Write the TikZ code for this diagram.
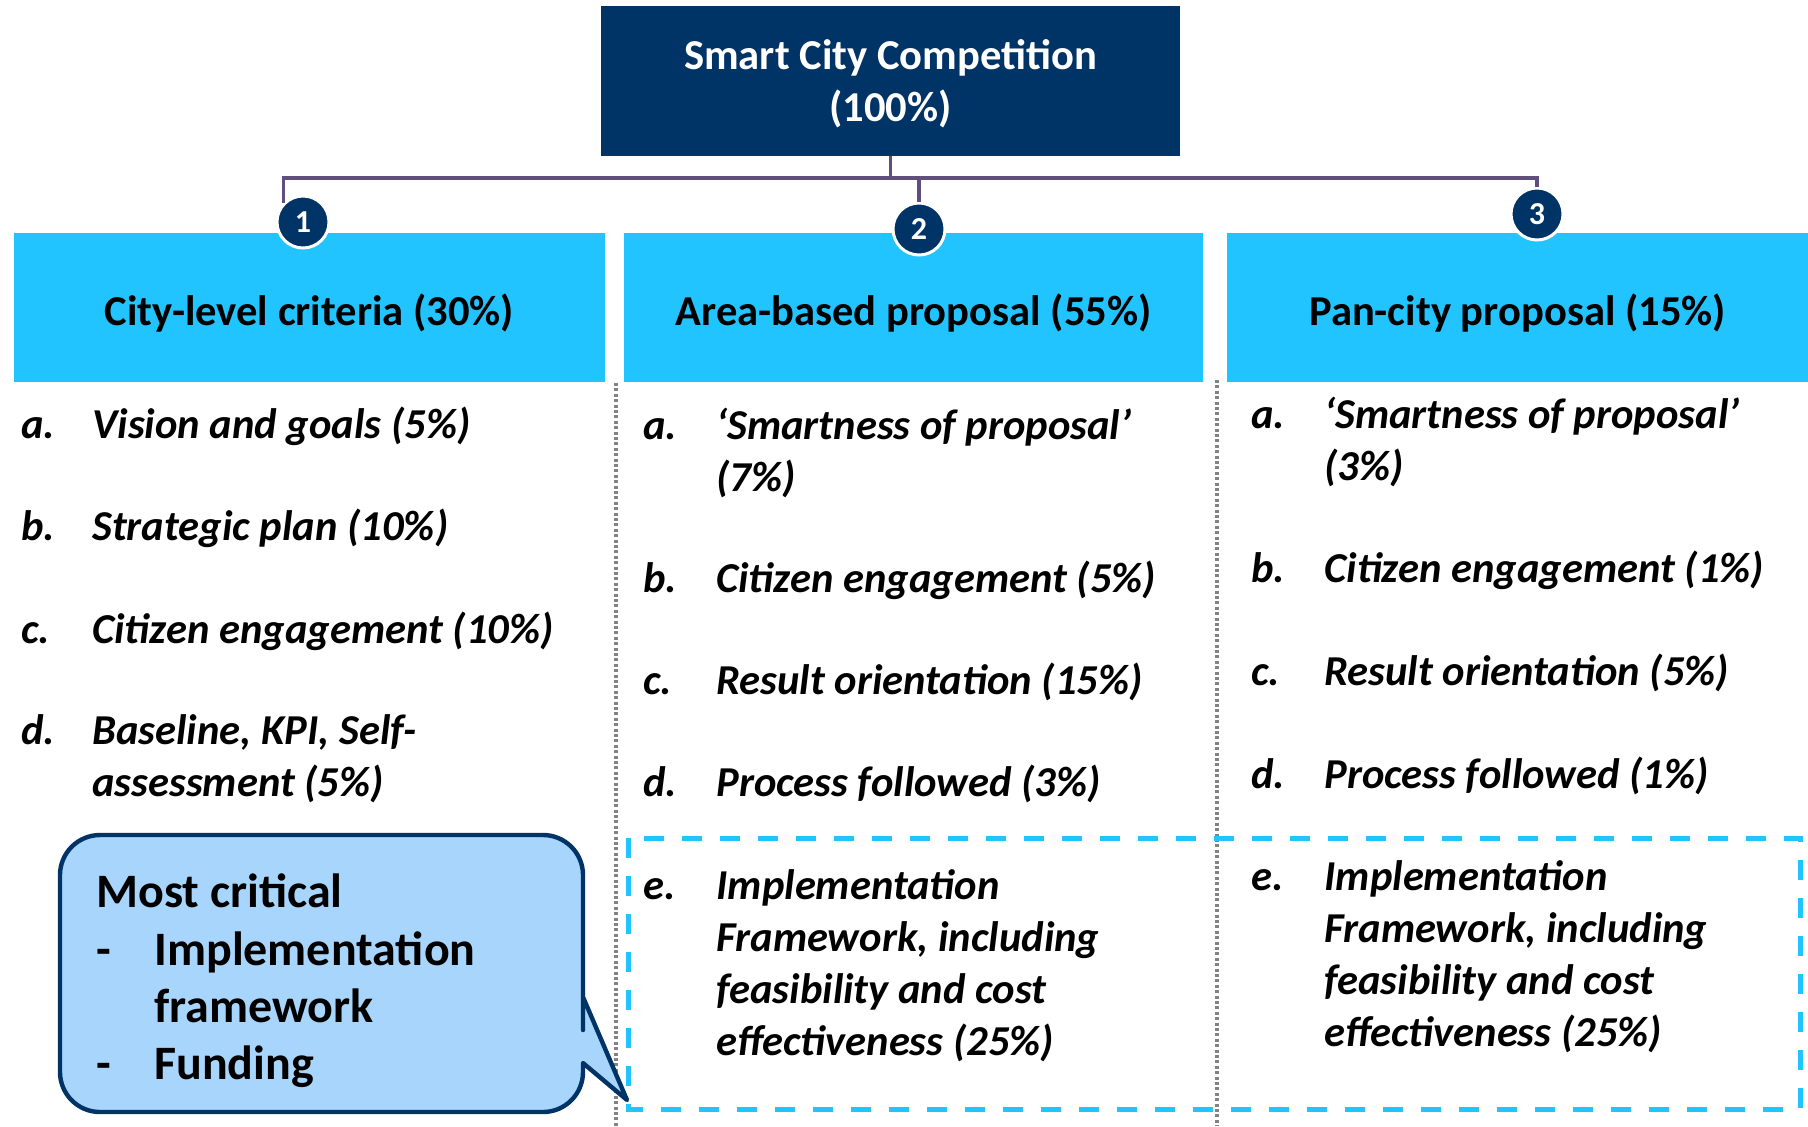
\documentclass[tikz,border=0pt]{standalone}
\usepackage{fontspec}
\setmainfont{Carlito}
\definecolor{navy}{RGB}{0,51,102}
\definecolor{cyanh}{RGB}{33,196,255}
\definecolor{connc}{RGB}{96,78,124}
\definecolor{callfill}{RGB}{168,213,251}
\definecolor{dotgray}{RGB}{130,130,130}
\newcommand\itemfont{\fontsize{21.3}{26}\selectfont\bfseries\itshape}
\newcommand\headfont{\fontsize{21.3}{26}\selectfont\bfseries}
\newcommand\callfont{\fontsize{24}{29}\selectfont\bfseries}
\begin{document}
\begin{tikzpicture}[x=0.5pt,y=-0.5pt,
  topbox/.style={fill=navy, text=white, minimum width=289.5pt, minimum height=75pt, inner sep=0pt, align=center, font=\headfont},
  headbox/.style={fill=cyanh, minimum height=74.5pt, inner sep=0pt, text height=20pt, text depth=2pt, font=\headfont},
  numc/.style={circle, fill=navy, draw=white, line width=1.5pt, minimum size=26pt, inner sep=0pt, text=white, font=\bfseries\fontsize{16}{18}\selectfont},
  conn/.style={draw=connc, line width=1.8pt},
  item/.style={anchor=north west, inner sep=0pt, align=left, font=\itemfont},
  ctext/.style={anchor=base west, inner sep=0pt, font=\callfont},
  sepline/.style={draw=dotgray, line width=1.8pt, dash pattern=on 1.5pt off 1.2pt},
  hibox/.style={draw=cyanh, line width=2.5pt, dash pattern=on 10pt off 9pt},
  callout/.style={draw=navy, fill=callfill, line width=2.2pt, line join=round}
]
\useasboundingbox (0,0) rectangle (1808,1126);

% top box
\node[topbox] (top) at (890.5,81) {\strut Smart City Competition\\(100\%)};

% header boxes
\node[headbox, minimum width=295.5pt] (h1) at (309.5,307.5) {City-level criteria (30\%)};
\node[headbox, minimum width=289.5pt] (h2) at (913.5,307.5) {Area-based proposal (55\%)};
\node[headbox, minimum width=290.5pt] (h3) at (1517.5,307.5) {Pan-city proposal (15\%)};

% number circles
\node[numc] (c1) at (303,222) {1};
\node[numc] (c2) at (919,229) {2};
\node[numc] (c3) at (1537,214) {3};

% connectors
\coordinate (bus) at (890.5,178);
\draw[conn] (top.south) -- (bus);
\draw[conn] (bus) -| (c1.135);
\draw[conn] (bus) -| (c2.north);
\draw[conn] (bus) -| (c3.north);

% separators
\coordinate (s1a) at (616,383);
\coordinate (s1b) at (616,1126);
\coordinate (s2a) at (1217,380);
\coordinate (s2b) at (1217,1126);
\draw[sepline] (s1a) -- (s1b);
\draw[sepline] (s2a) -- (s2b);

% column 1
\node[item] (l1a) at (21,402) {\strut a.};
\node[item] (t1a) at (92,402) {\strut Vision and goals (5\%)};
\node[item] (l1b) at (21,504) {\strut b.};
\node[item] (t1b) at (92,504) {\strut Strategic plan (10\%)};
\node[item] (l1c) at (21,607) {\strut c.};
\node[item] (t1c) at (92,607) {\strut Citizen engagement (10\%)};
\node[item] (l1d) at (21,708) {\strut d.};
\node[item] (t1d) at (92,708) {\strut Baseline, KPI, Self-\\assessment (5\%)};

% column 2
\node[item] (l2a) at (643,403) {\strut a.};
\node[item] (t2a) at (716,403) {\strut ‘Smartness of proposal’\\(7\%)};
\node[item] (l2b) at (643,556) {\strut b.};
\node[item] (t2b) at (716,556) {\strut Citizen engagement (5\%)};
\node[item] (l2c) at (643,658) {\strut c.};
\node[item] (t2c) at (716,658) {\strut Result orientation (15\%)};
\node[item] (l2d) at (643,760) {\strut d.};
\node[item] (t2d) at (716,760) {\strut Process followed (3\%)};
\node[item] (l2e) at (643,863) {\strut e.};
\node[item] (t2e) at (716,863) {\strut Implementation\\Framework, including\\feasibility and cost\\effectiveness (25\%)};

% column 3
\node[item] (l3a) at (1251,392) {\strut a.};
\node[item] (t3a) at (1324,392) {\strut ‘Smartness of proposal’\\(3\%)};
\node[item] (l3b) at (1251,546) {\strut b.};
\node[item] (t3b) at (1324,546) {\strut Citizen engagement (1\%)};
\node[item] (l3c) at (1251,649) {\strut c.};
\node[item] (t3c) at (1324,649) {\strut Result orientation (5\%)};
\node[item] (l3d) at (1251,752) {\strut d.};
\node[item] (t3d) at (1324,752) {\strut Process followed (1\%)};
\node[item] (l3e) at (1251,854) {\strut e.};
\node[item] (t3e) at (1324,854) {\strut Implementation\\Framework, including\\feasibility and cost\\effectiveness (25\%)};

% highlight box
\draw[hibox] (628,838) rectangle (1800,1109);

% callout
\draw[callout] (300,835) [rounded corners=20pt] -- (583,835) -- (583,990) [sharp corners] -- (583,997) -- (627,1100) -- (583,1063) -- (583,1070) [rounded corners=20pt] -- (583,1112) -- (60,1112) -- (60,835) -- cycle;
\node[ctext] (k0) at (96,907) {Most critical};
\node[ctext] (k1d) at (96,965) {-};
\node[ctext] (k1) at (154,965) {Implementation};
\node[ctext] (k2) at (154,1022) {framework};
\node[ctext] (k3d) at (96,1079) {-};
\node[ctext] (k3) at (154,1079) {Funding};
\end{tikzpicture}
\end{document}
